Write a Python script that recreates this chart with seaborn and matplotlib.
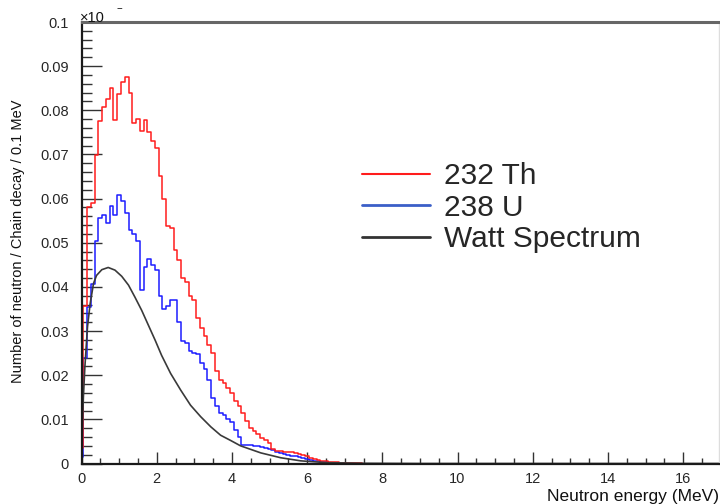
import numpy as np
import pandas as pd
import matplotlib
matplotlib.use("Agg")
import matplotlib.pyplot as plt
import seaborn as sns
from matplotlib.lines import Line2D
from matplotlib.ticker import MultipleLocator, FuncFormatter

# ---- data ----
bin_width = 0.1
n_bins = 200
series_labels = ["232 Th", "238 U", "Watt Spectrum"]

th232 = [0.0035, 0.0357, 0.0582, 0.0590, 0.0699, 0.0776, 0.0808, 0.0825, 0.0851, 0.0777,
         0.0836, 0.0864, 0.0876, 0.0839, 0.0771, 0.0781, 0.0753, 0.0777, 0.0750, 0.0731,
         0.0714, 0.0652, 0.0599, 0.0537, 0.0533, 0.0484, 0.0462, 0.0420, 0.0412, 0.0379,
         0.0371, 0.0330, 0.0307, 0.0288, 0.0269, 0.0250, 0.0209, 0.0190, 0.0183, 0.0171,
         0.0160, 0.0141, 0.0130, 0.0115, 0.0096, 0.0081, 0.0073, 0.0066, 0.0058, 0.0054,
         0.0047, 0.0033, 0.0029, 0.0028, 0.0027, 0.0026, 0.0025, 0.0024, 0.0022, 0.0020,
         0.0016, 0.0013, 0.0010, 0.0008, 0.0006, 0.0005, 0.0004, 0.0003, 0.0003, 0.0002,
         0.0002, 0.0001, 0.0001, 0.0001, 0.0001]

u238 = [0.0015, 0.0239, 0.0355, 0.0407, 0.0503, 0.0556, 0.0563, 0.0545, 0.0583, 0.0563,
        0.0608, 0.0595, 0.0567, 0.0528, 0.0519, 0.0504, 0.0392, 0.0446, 0.0463, 0.0450,
        0.0439, 0.0379, 0.0350, 0.0357, 0.0370, 0.0370, 0.0320, 0.0277, 0.0272, 0.0254,
        0.0250, 0.0248, 0.0228, 0.0213, 0.0190, 0.0149, 0.0130, 0.0115, 0.0110, 0.0100,
        0.0093, 0.0077, 0.0060, 0.0043, 0.0042, 0.0041, 0.0040, 0.0039, 0.0037, 0.0035,
        0.0032, 0.0030, 0.0026, 0.0024, 0.0022, 0.0020, 0.0018, 0.0016, 0.0014, 0.0012,
        0.0010, 0.0008, 0.0006, 0.0005, 0.0004, 0.0003, 0.0002, 0.0001]

watt_e = [0.0, 0.03, 0.05, 0.09, 0.16, 0.23, 0.32, 0.40, 0.54, 0.71, 0.89, 1.07, 1.25,
          1.42, 1.60, 1.78, 1.96, 2.13, 2.37, 2.64, 2.90, 3.17, 3.44, 3.70, 3.97, 4.23,
          4.50, 4.77, 5.30, 5.83, 6.50, 7.50, 9.00, 17.0]
watt_v = [0.0, 0.0100, 0.0150, 0.0219, 0.0310, 0.0362, 0.0408, 0.0426, 0.0439, 0.0444,
          0.0438, 0.0424, 0.0404, 0.0377, 0.0347, 0.0313, 0.0279, 0.0245, 0.0204, 0.0166,
          0.0132, 0.0106, 0.0083, 0.0064, 0.0052, 0.0040, 0.0032, 0.0024, 0.0013, 0.0006,
          0.0002, 0.00005, 0.0, 0.0]

y_ticks = [0, 0.01, 0.02, 0.03, 0.04, 0.05, 0.06, 0.07, 0.08, 0.09, 0.1]
x_ticks = [0, 2, 4, 6, 8, 10, 12, 14, 16]

# ---- style ----
sns.set_theme(style="white")
plt.rcParams['font.family'] = ['Liberation Sans', 'DejaVu Sans']

W, H = 720, 504
fig = plt.figure(figsize=(W / 100, H / 100), dpi=100)
ax_l, ax_r, ax_t, ax_b = 81.5, 719.0, 22.0, 463.5
ax = fig.add_axes([ax_l / W, 1 - ax_b / H, (ax_r - ax_l) / W, (ax_b - ax_t) / H])

def padded(v):
    return np.concatenate([np.asarray(v, float), np.zeros(n_bins - len(v))])

centers = np.arange(n_bins) * bin_width
df = pd.DataFrame({
    "E": np.concatenate([centers, centers]),
    "w": np.concatenate([padded(th232), padded(u238)]),
    "src": [series_labels[0]] * n_bins + [series_labels[1]] * n_bins,
})

sns.histplot(data=df, x="E", weights="w", hue="src",
             hue_order=[series_labels[0], series_labels[1]],
             palette={series_labels[0]: "#ff1c1c", series_labels[1]: "#1c1cff"},
             binwidth=bin_width, binrange=(-bin_width / 2, n_bins * bin_width - bin_width / 2),
             element="step", fill=False, linewidth=1.1, legend=False, ax=ax)

sns.lineplot(x=watt_e, y=watt_v, color="#3a3a3a", linewidth=1.2, ax=ax)

ax.set_xlim(0, (ax_r - ax_l) / 37.6)
ax.set_ylim(0, 0.1)
ax.set_xlabel("")
ax.set_ylabel("")

ax.set_yticks(y_ticks)
ax.yaxis.set_major_formatter(FuncFormatter(lambda v, p: f"{v:g}"))
ax.yaxis.set_minor_locator(MultipleLocator(0.002))
ax.set_xticks(x_ticks)
ax.xaxis.set_minor_locator(MultipleLocator(0.5))

ax.tick_params(axis="y", which="major", direction="in", length=14.4, width=1.0,
               color="#333333", labelsize=10.5, pad=9, left=True)
ax.tick_params(axis="y", which="minor", direction="in", length=7.2, width=1.0,
               color="#333333", left=True)
ax.tick_params(axis="x", which="major", direction="in", length=8.6, width=1.0,
               color="#333333", labelsize=10.5, pad=6, bottom=True)
ax.tick_params(axis="x", which="minor", direction="in", length=4.3, width=1.0,
               color="#333333", bottom=True)

for s in ["left", "bottom"]:
    ax.spines[s].set_color("#1a1a1a")
    ax.spines[s].set_linewidth(1.6)
ax.spines["top"].set_color("#666666")
ax.spines["top"].set_linewidth(2.2)
ax.spines["right"].set_color("#dddddd")
ax.spines["right"].set_linewidth(1.0)

# axis titles
fig.text(18 / W, 1 - 241 / H, "Number of neutron / Chain decay / 0.1 MeV",
         rotation=90, ha="center", va="center", fontsize=10.5, color="#111111")
fig.text(ax_r / W, 1 - 501.5 / H, "Neutron energy (MeV)", ha="right",
         va="baseline", fontsize=12.5, color="#111111")

# exponent marker
fig.text(80 / W, 1 - 21.5 / H, "\u00d710", ha="left", va="baseline", fontsize=10.5, color="#111111")
fig.text(116 / W, 1 - 12 / H, "\u2212", ha="left", va="baseline", fontsize=7, color="#111111")

# legend
handles = [Line2D([], [], color="#ff1c1c", lw=1.5),
           Line2D([], [], color="#3b5fc8", lw=2.0),
           Line2D([], [], color="#333333", lw=2.0)]
ax.legend(handles, series_labels, loc="upper left",
          bbox_to_anchor=(362 / W, 1 - 162 / H), bbox_transform=fig.transFigure,
          frameon=False, fontsize=21.5, handlelength=2.27, handletextpad=0.47,
          labelspacing=0.12, borderpad=0, borderaxespad=0)

fig.savefig("out.png", dpi=100)
